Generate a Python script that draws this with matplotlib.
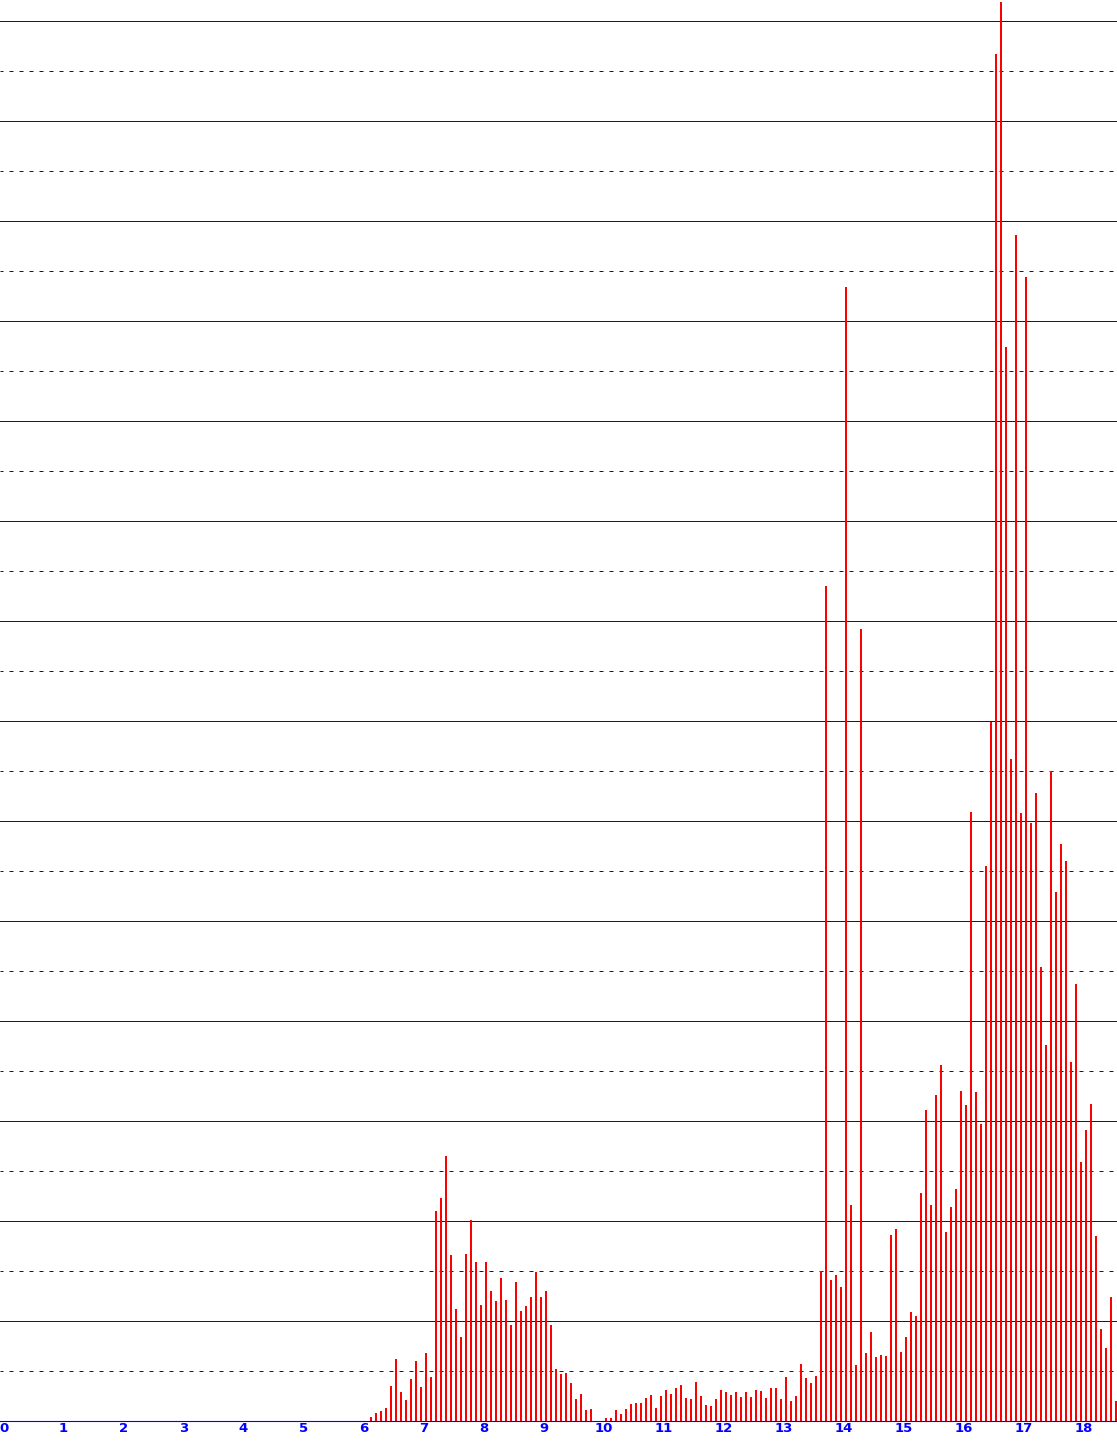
import numpy as np
import matplotlib
matplotlib.use("Agg")
import matplotlib.pyplot as plt

# bar heights, one bar every 1/12 of a unit, starting a little after 6
first_bin = 6.125
bin_step = 1 / 12
heights = [
    4, 8, 10, 13, 35, 62, 29, 21, 42, 60, 34, 68, 44, 210, 223, 265, 166, 112, 84, 167,
    201, 159, 116, 159, 130, 120, 143, 121, 96, 139, 110, 115, 124, 149, 124, 130, 96, 52, 47, 48,
    38, 22, 27, 11, 12, 0, 0, 3, 3, 11, 7, 12, 17, 18, 18, 23, 26, 13, 25, 31,
    27, 33, 36, 23, 22, 39, 25, 16, 15, 22, 31, 29, 26, 29, 24, 29, 24, 31, 30, 23,
    33, 33, 22, 44, 20, 25, 57, 43, 38, 45, 150, 835, 141, 146, 134, 1134, 216, 56, 792, 68,
    89, 64, 66, 65, 186, 192, 69, 84, 109, 105, 228, 311, 216, 326, 356, 189, 214, 232, 330, 316,
    609, 329, 297, 555, 699, 1367, 1419, 1074, 662, 1186, 608, 1144, 598, 628, 454, 376, 650, 529, 577, 560,
    359, 437, 259, 291, 317, 185, 92, 73, 124, 20,
]
x_ticks = list(range(0, 19))

xs = first_bin + np.arange(len(heights)) * bin_step

W, H = 1117, 1441
fig = plt.figure(figsize=(W / 100, H / 100), dpi=100)
ax = fig.add_axes([0, 20 / H, 1, 1421 / H])

ax.set_xlim(-3.5 / 60, (W - 3.5) / 60)
ax.set_ylim(0, 1421)

blue = "#0000ff"
for y in range(50, 1401, 50):
    if y % 100 == 0:
        ax.axhline(y, color=blue, lw=0.72, zorder=1)
    else:
        ax.axhline(y, color=blue, lw=0.72, ls=(1, (4, 6)), zorder=1)

ax.bar(xs, heights, width=2.4 / 60, color="#ff0000", zorder=2, antialiased=False)

for s in ["left", "right", "top"]:
    ax.spines[s].set_visible(False)
ax.spines["bottom"].set_color(blue)
ax.spines["bottom"].set_linewidth(0.8)
ax.spines["bottom"].set_zorder(3)

ax.set_yticks([])
ax.set_xticks(x_ticks)
ax.set_xticklabels([str(t) for t in x_ticks], color=blue, fontsize=9.5,
                   fontweight="bold", family="DejaVu Sans")
ax.tick_params(axis="x", length=0, pad=1)

fig.savefig("out.png", dpi=100)
